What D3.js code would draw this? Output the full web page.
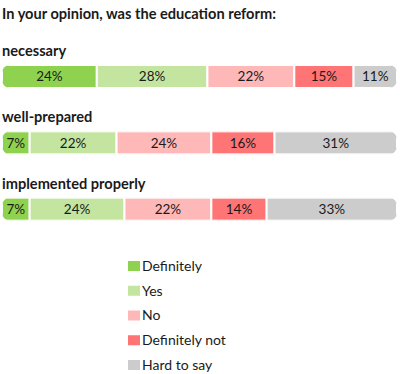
<!DOCTYPE html>
<html>
<head>
<meta charset="utf-8">
<script src="https://cdn.jsdelivr.net/npm/d3@7"></script>
<style>
  body { margin: 0; background: #fff; }
  svg { display: block; font-family: Lato, "Open Sans", sans-serif; }
</style>
</head>
<body>
<div id="chart"></div>
<script>
// answer categories and colours
const answers = ["Definitely", "Yes", "No", "Definitely not", "Hard to say"];
const colors = ["#8ed250", "#c3e5a0", "#ffb8b8", "#ff7474", "#cccccc"];

// questions and shares (%)
const questions = ["necessary", "well-prepared", "implemented properly"];
const necessary = [24, 28, 22, 15, 11];
const wellPrepared = [7, 22, 24, 16, 31];
const implemented = [7, 24, 22, 14, 33];
const values = [necessary, wellPrepared, implemented];

const width = 400, height = 374;
const svg = d3.select("#chart").append("svg")
    .attr("width", width)
    .attr("height", height);

svg.append("text")
    .attr("x", 2)
    .attr("y", 19)
    .attr("font-size", 14.6)
    .attr("font-weight", "bold")
    .attr("fill", "#1a1a1a")
    .text("In your opinion, was the education reform:");

const x = d3.scaleLinear().domain([0, 100]).range([2, 397]);
const y = d3.scaleBand().domain(questions).range([43, 242]).paddingInner(0);
const barH = 23;

const defs = svg.append("defs");

questions.forEach((q, i) => {
    const top = y(q) + 22;
    const g = svg.append("g");

    g.append("text")
        .attr("x", 2)
        .attr("y", top - 9)
        .attr("font-size", 14.6)
        .attr("font-weight", "bold")
        .attr("fill", "#1a1a1a")
        .text(q);

    defs.append("clipPath").attr("id", "clip" + i)
      .append("rect")
        .attr("x", x(0)).attr("y", top)
        .attr("width", x(100) - x(0)).attr("height", barH)
        .attr("rx", 8);

    const stack = [];
    let acc = 0;
    values[i].forEach((v, j) => { stack.push({v: v, x0: acc, x1: acc + v, c: colors[j]}); acc += v; });

    g.append("g").attr("clip-path", `url(#clip${i})`)
      .selectAll("rect").data(stack).enter().append("rect")
        .attr("x", d => x(d.x0))
        .attr("y", top)
        .attr("width", d => x(d.x1) - x(d.x0))
        .attr("height", barH)
        .attr("fill", d => d.c)
        .attr("stroke", "#fff")
        .attr("stroke-width", 2);

    g.selectAll(".lab").data(stack).enter().append("text")
        .attr("class", "lab")
        .attr("x", d => (x(d.x0) + x(d.x1)) / 2)
        .attr("y", top + barH / 2)
        .attr("dy", "0.36em")
        .attr("text-anchor", "middle")
        .attr("font-size", 13.5)
        .attr("fill", "#1a1a1a")
        .text(d => d.v + "%");
});

// legend
const ly = d3.scalePoint().domain(answers).range([266, 365]);
const legend = svg.append("g").selectAll("g").data(answers).enter().append("g")
    .attr("transform", d => `translate(128,${ly(d)})`);
legend.append("rect")
    .attr("x", 0).attr("y", -5)
    .attr("width", 12).attr("height", 10)
    .attr("fill", (d, i) => colors[i]);
legend.append("text")
    .attr("x", 14)
    .attr("dy", "0.35em")
    .attr("font-size", 14)
    .attr("fill", "#1a1a1a")
    .text(d => d);
</script>
</body>
</html>
